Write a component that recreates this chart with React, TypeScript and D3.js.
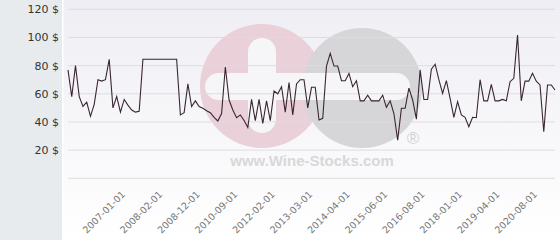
import React from "react";
import * as d3 from "d3";

const prices: number[] = [
  77, 58, 80, 58, 51, 54, 44, 52.5, 70, 69,
  70, 84.5, 50, 58, 47, 56, 52, 48.5, 47, 47.5,
  84.5, 84.5, 84.5, 84.5, 84.5, 84.5, 84.5, 84.5, 84.5, 84.5,
  45, 46.6, 67, 51, 55, 51, 49.7, 48, 46.6, 43.3,
  40.7, 46, 79, 55.6, 48.5, 43, 45, 41, 36, 56,
  41, 56, 39, 55, 41, 62, 60, 65, 47, 68,
  45, 67, 70, 70, 50, 64.6, 64.6, 41.4, 42.6, 79.7,
  88.7, 79.7, 79.7, 69.3, 69.3, 74.5, 65, 69.3, 55, 55,
  59, 55, 55, 55, 59, 50.4, 55, 46, 27, 49.7,
  49.7, 64, 55.6, 42, 77, 56, 56, 77.4, 81, 70,
  60.3, 69.3, 56.8, 43.3, 54.4, 45, 43.3, 36.6, 43.3, 43,
  70, 55, 55, 66.7, 55, 55, 56, 55, 68.6, 71,
  101.8, 55, 69, 69, 74.5, 69, 66.3, 33, 66.3, 66.3,
  62.7,
];

const tickLabels: string[] = [
  "2007-01-01", "2008-02-01", "2008-12-01", "2010-09-01",
  "2012-02-01", "2013-03-01", "2014-04-01", "2015-06-01",
  "2016-08-01", "2018-01-01", "2019-04-01", "2020-08-01",
];
const tickIndices: number[] = [15, 25, 35, 45, 55, 65, 75, 85, 95, 105, 115, 125];

const yTicks: number[] = [0, 20, 40, 60, 80, 100, 120];

export default function App() {
  const W = 560;
  const H = 240;
  const x = d3.scaleLinear().domain([0, prices.length - 1]).range([68, 555]);
  const y = d3.scaleLinear().domain([0, 120]).range([178.3, 9.3]);
  const line = d3
    .line<number>()
    .x((_, i) => x(i))
    .y((d) => y(d));

  return (
    <svg
      width={W}
      height={H}
      style={{ position: "absolute", left: 0, top: 0, display: "block" }}
      fontFamily="DejaVu Sans, sans-serif"
    >
      <defs>
        <linearGradient id="bg" x1="0" y1="0" x2="0" y2="1">
          <stop offset="0" stopColor="#eeeef4" />
          <stop offset="1" stopColor="#ffffff" />
        </linearGradient>
      </defs>
      <rect x={0} y={0} width={W} height={H} fill="url(#bg)" />
      <rect x={0} y={0} width={62} height={H} fill="#e7ebee" />
      <rect x={62} y={0} width={1.5} height={H} fill="#ffffff" />

      {/* watermark */}
      <g>
        <circle cx={262} cy={86} r={62} fill="#ead0d8" />
        <circle cx={362} cy={88} r={60} fill="#d6d6d8" />
        <rect x={205} y={73} width={205} height={27} rx={13.5} fill="#f6f6f9" />
        <rect x={248} y={38} width={28} height={95} rx={14} fill="#f6f6f9" />
        <text
          x={312}
          y={166}
          textAnchor="middle"
          fontFamily="Liberation Sans, Arial, sans-serif"
          fontWeight="bold"
          fontSize={15}
          fill="#d8d8d8"
        >
          www.Wine-Stocks.com
        </text>
        <text
          x={413}
          y={144}
          textAnchor="middle"
          fontFamily="Liberation Sans, Arial, sans-serif"
          fontSize={17}
          fill="#d2d2d2"
        >
          ®
        </text>
      </g>

      {/* grid */}
      {yTicks.map((t) => (
        <line
          key={t}
          x1={68}
          x2={555}
          y1={y(t)}
          y2={y(t)}
          stroke="#dcdce2"
          strokeWidth={1}
        />
      ))}
      {yTicks
        .filter((t) => t > 0)
        .map((t) => (
          <text
            key={t}
            x={59}
            y={y(t)}
            dy="0.36em"
            textAnchor="end"
            fontSize={11}
            fill="#333"
          >
            {t} $
          </text>
        ))}

      <path d={line(prices) || ""} fill="none" stroke="#3a2631" strokeWidth={1.1} />

      {tickIndices.map((ti, k) => (
        <text
          key={k}
          transform={`translate(${x(ti) + 1.5},195) rotate(-45)`}
          textAnchor="end"
          fontSize={9.5}
          fill="#777"
        >
          {tickLabels[k]}
        </text>
      ))}
    </svg>
  );
}
